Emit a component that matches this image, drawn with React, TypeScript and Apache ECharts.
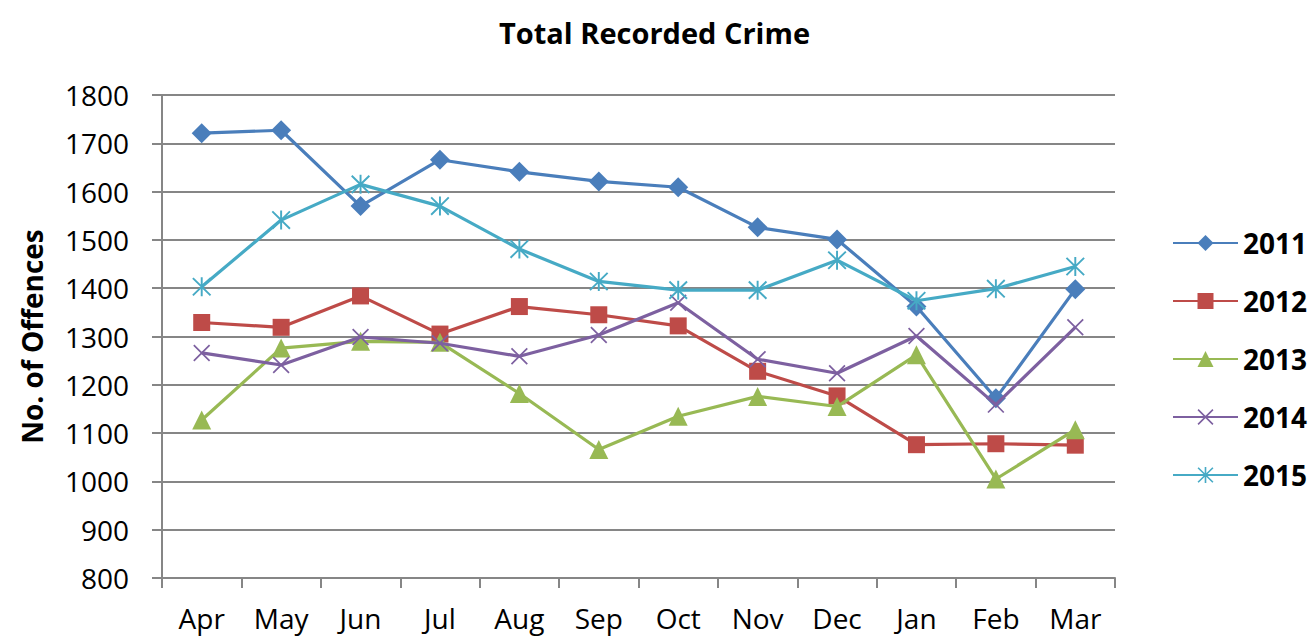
import React, { useEffect, useRef } from "react";
import * as echarts from "echarts";

const months = ["Apr", "May", "Jun", "Jul", "Aug", "Sep", "Oct", "Nov", "Dec", "Jan", "Feb", "Mar"];
const years = ["2011", "2012", "2013", "2014", "2015"];
const v2011 = [1721, 1727, 1570, 1666, 1641, 1621, 1609, 1526, 1501, 1362, 1172, 1398];
const v2012 = [1329, 1319, 1384, 1305, 1362, 1345, 1322, 1228, 1177, 1076, 1078, 1075];
const v2013 = [1127, 1276, 1290, 1288, 1182, 1066, 1135, 1176, 1155, 1262, 1005, 1107];
const v2014 = [1266, 1241, 1299, 1286, 1259, 1303, 1370, 1253, 1224, 1301, 1159, 1319];
const v2015 = [1403, 1541, 1615, 1570, 1481, 1414, 1396, 1396, 1458, 1374, 1399, 1445];
const yTicks = { min: 800, max: 1800, step: 100 };

const colors = ["#4A7EBB", "#BE4B48", "#98B954", "#7D60A0", "#46AAC5"];
const XPATH =
  "path://M1.6,0.2L19.8,18.4L18.4,19.8L0.2,1.6Z M18.4,0.2L19.8,1.6L1.6,19.8L0.2,18.4Z";
const STARPATH =
  "path://M1.6,0.2L19.8,18.4L18.4,19.8L0.2,1.6Z M18.4,0.2L19.8,1.6L1.6,19.8L0.2,18.4Z M9,0L11,0L11,20L9,20Z";
const symbols = ["diamond", "rect", "triangle", XPATH, STARPATH];
const symbolSizes = [20, 17, 19, 17, 19];

const FONT = "'Open Sans', 'Noto Sans', sans-serif";

export default function App() {
  const ref = useRef<HTMLDivElement>(null);
  useEffect(() => {
    if (!ref.current) return;
    const chart = echarts.init(ref.current, undefined, { renderer: "svg" });
    const data = [v2011, v2012, v2013, v2014, v2015];
    chart.setOption({
      animation: false,
      backgroundColor: "#ffffff",
      color: colors,
      title: {
        text: "Total Recorded Crime",
        left: 494,
        top: 13,
        textStyle: { fontFamily: FONT, fontWeight: "bold", fontSize: 29, color: "#000" },
      },
      legend: {
        orient: "vertical",
        left: 1167,
        top: 223,
        itemWidth: 65,
        itemHeight: 20,
        itemGap: 28,
        data: years,
        textStyle: { fontFamily: FONT, fontWeight: "bold", fontSize: 28, color: "#000", lineHeight: 30 },
      },
      grid: { left: 162, right: 198, top: 95, bottom: 61, containLabel: false },
      xAxis: {
        type: "category",
        data: months,
        boundaryGap: true,
        axisLine: { show: true, lineStyle: { color: "#868686", width: 2 } },
        axisTick: { show: true, length: 10, interval: 0, alignWithLabel: false, lineStyle: { color: "#868686", width: 2 } },
        axisLabel: { fontFamily: FONT, fontSize: 28, color: "#000", margin: 26, interval: 0 },
        splitLine: { show: false },
      },
      yAxis: {
        type: "value",
        min: yTicks.min,
        max: yTicks.max,
        interval: yTicks.step,
        name: "No. of Offences",
        nameLocation: "middle",
        nameRotate: 90,
        nameGap: 116,
        nameTextStyle: { fontFamily: FONT, fontWeight: "bold", fontSize: 28, color: "#000" },
        axisLine: { show: true, lineStyle: { color: "#868686", width: 2 } },
        axisTick: { show: true, length: 10, lineStyle: { color: "#868686", width: 2 } },
        axisLabel: { fontFamily: FONT, fontSize: 28, color: "#000", margin: 33, formatter: (v: number) => String(v) },
        splitLine: { show: true, lineStyle: { color: "#868686", width: 2 } },
      },
      series: years.map((y, i) => ({
        name: y,
        type: "line",
        data: data[i],
        symbol: symbols[i],
        symbolSize: symbolSizes[i],
        showAllSymbol: true,
        lineStyle: { color: colors[i], width: 3.2 },
        itemStyle: { color: colors[i] },
        emphasis: { disabled: true },
        z: 2 + i,
      })),
    });
    return () => chart.dispose();
  }, []);
  return <div ref={ref} style={{ position: "fixed", left: 0, top: 0, width: 1313, height: 639 }} />;
}
